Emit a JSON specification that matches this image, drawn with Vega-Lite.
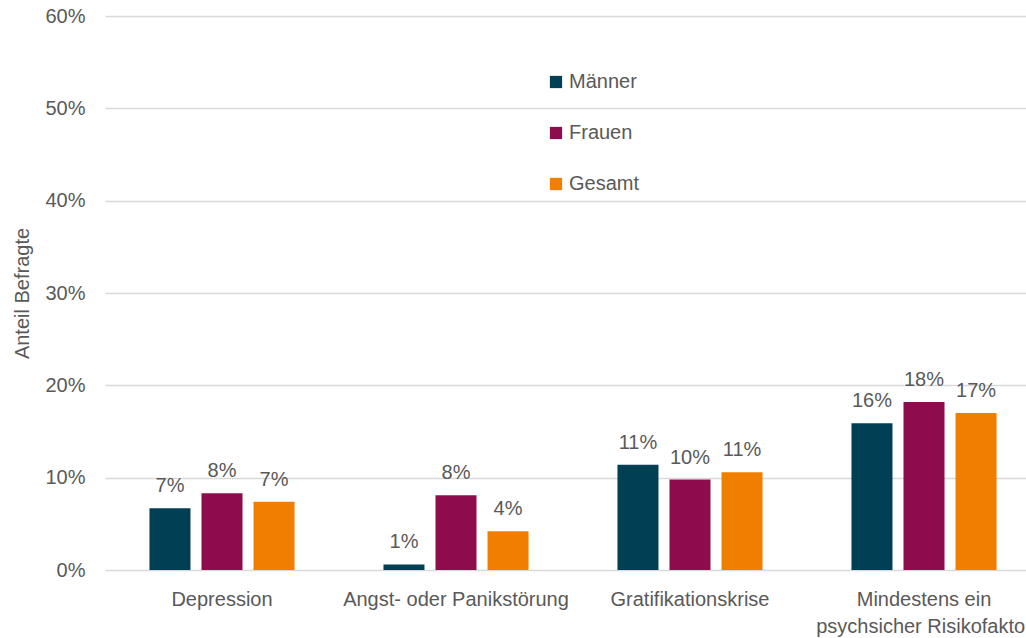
{
  "$schema": "https://vega.github.io/schema/vega-lite/v6.json",
  "width": 936,
  "height": 554,
  "autosize": {"type": "none"},
  "padding": {"left": 105, "top": 16, "right": 0, "bottom": 68},
  "background": "white",
  "config": {
    "font": "Liberation Sans",
    "view": {"stroke": null}
  },
  "data": {
    "values": [
      {"kategorie": "Depression", "gruppe": "Männer", "anteil": 0.067},
      {"kategorie": "Depression", "gruppe": "Frauen", "anteil": 0.083},
      {"kategorie": "Depression", "gruppe": "Gesamt", "anteil": 0.074},
      {"kategorie": "Angst- oder Panikstörung", "gruppe": "Männer", "anteil": 0.006},
      {"kategorie": "Angst- oder Panikstörung", "gruppe": "Frauen", "anteil": 0.081},
      {"kategorie": "Angst- oder Panikstörung", "gruppe": "Gesamt", "anteil": 0.042},
      {"kategorie": "Gratifikationskrise", "gruppe": "Männer", "anteil": 0.114},
      {"kategorie": "Gratifikationskrise", "gruppe": "Frauen", "anteil": 0.098},
      {"kategorie": "Gratifikationskrise", "gruppe": "Gesamt", "anteil": 0.106},
      {"kategorie": "Mindestens ein psychsicher Risikofaktor", "gruppe": "Männer", "anteil": 0.159},
      {"kategorie": "Mindestens ein psychsicher Risikofaktor", "gruppe": "Frauen", "anteil": 0.182},
      {"kategorie": "Mindestens ein psychsicher Risikofaktor", "gruppe": "Gesamt", "anteil": 0.170}
    ]
  },
  "encoding": {
    "x": {
      "field": "kategorie",
      "type": "nominal",
      "sort": ["Depression", "Angst- oder Panikstörung", "Gratifikationskrise", "Mindestens ein psychsicher Risikofaktor"],
      "scale": {"paddingInner": 0.38, "paddingOuter": 0.19},
      "axis": {
        "title": null,
        "labelAngle": 0,
        "labelFontSize": 20,
        "labelColor": "#595959",
        "labelPadding": 19,
        "labelLimit": 500,
        "domain": false,
        "ticks": false,
        "labelExpr": "datum.value == 'Mindestens ein psychsicher Risikofaktor' ? ['Mindestens ein', 'psychsicher Risikofaktor'] : datum.value",
        "labelLineHeight": 27
      }
    },
    "xOffset": {
      "field": "gruppe",
      "type": "nominal",
      "sort": ["Männer", "Frauen", "Gesamt"],
      "scale": {"paddingInner": 0.2115, "paddingOuter": 0}
    },
    "y": {
      "field": "anteil",
      "type": "quantitative",
      "scale": {"domain": [0, 0.6]},
      "axis": {
        "title": "Anteil Befragte",
        "titleFontSize": 20,
        "titleFontWeight": "normal",
        "titleColor": "#595959",
        "titlePadding": 12,
        "format": ".0%",
        "tickCount": 6,
        "labelFontSize": 20,
        "labelColor": "#595959",
        "labelPadding": 20,
        "domain": false,
        "ticks": false,
        "gridColor": "#D9D9D9",
        "gridWidth": 1.5
      }
    }
  },
  "layer": [
    {
      "mark": {"type": "bar"},
      "encoding": {
        "color": {
          "field": "gruppe",
          "type": "nominal",
          "sort": ["Männer", "Frauen", "Gesamt"],
          "scale": {"domain": ["Männer", "Frauen", "Gesamt"], "range": ["#003F54", "#8E0C4E", "#F07F00"]},
          "legend": {
            "title": null,
            "orient": "none",
            "legendX": 441,
            "legendY": 56,
            "symbolType": "square",
            "symbolSize": 150,
            "symbolStrokeWidth": 0,
            "symbolOpacity": 1,
            "labelFontSize": 20,
            "labelColor": "#595959",
            "labelOffset": 3,
            "rowPadding": 31
          }
        }
      }
    },
    {
      "mark": {"type": "text", "baseline": "bottom", "dy": -12, "fontSize": 20, "color": "#595959"},
      "encoding": {
        "text": {"field": "anteil", "type": "quantitative", "format": ".0%"}
      }
    }
  ]
}
